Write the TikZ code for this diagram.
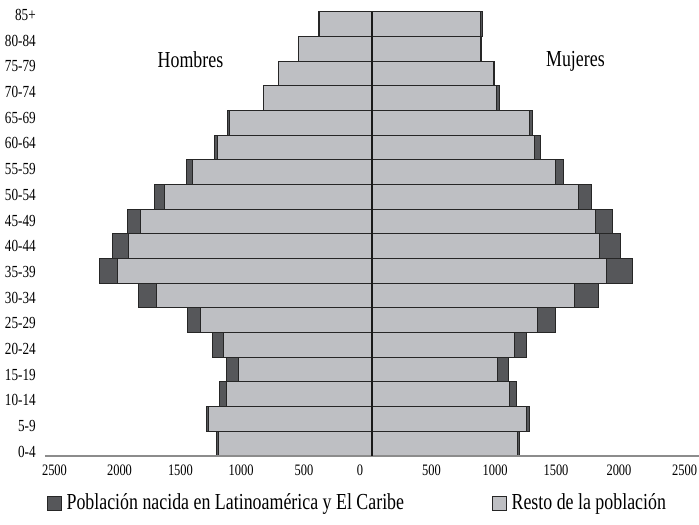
\documentclass[tikz,border=0pt]{standalone}
\usepackage{fontspec}
\setmainfont[FakeStretch=0.78]{Liberation Serif}
\usetikzlibrary{positioning}

\definecolor{latamgray}{RGB}{86,87,90}
\definecolor{restogray}{RGB}{190,191,195}

\tikzset{
  latam/.style={fill=latamgray,draw=black!85,line width=0.8bp},
  resto/.style={fill=restogray,draw=black!85,line width=0.8bp},
  agelabel/.style={anchor=east,inner sep=0pt,font=\fontsize{17}{17}\selectfont},
  ticklabel/.style={inner sep=0pt,font=\fontsize{16}{16}\selectfont},
  sexlabel/.style={inner sep=0pt,font=\fontsize{23}{23}\selectfont},
  keybox/.style={draw=black!85,line width=0.8bp,minimum size=14bp,inner sep=0pt},
  keytext/.style={anchor=west,inner sep=0pt,font=\fontsize{23}{23}\selectfont}
}

\begin{document}
\begin{tikzpicture}[x=0.127bp,y=24.67bp]

\useasboundingbox (-2929,-2.77) rectangle (2575,18.47);

% bars: dark one underneath, rest on top
\draw [latam] (-1228, 0) rectangle (1157, 1);
\draw [resto] (-1213, 0) rectangle (1144, 1);
\draw [latam] (-1307, 1) rectangle (1239, 2);
\draw [resto] (-1291, 1) rectangle (1218, 2);
\draw [latam] (-1202, 2) rectangle (1139, 3);
\draw [resto] (-1144, 2) rectangle (1079, 3);
\draw [latam] (-1144, 3) rectangle (1076, 4);
\draw [resto] (-1053, 3) rectangle ( 987, 4);
\draw [latam] (-1260, 4) rectangle (1218, 5);
\draw [resto] (-1173, 4) rectangle (1118, 5);
\draw [latam] (-1454, 5) rectangle (1443, 6);
\draw [resto] (-1354, 5) rectangle (1302, 6);
\draw [latam] (-1837, 6) rectangle (1785, 7);
\draw [resto] (-1697, 6) rectangle (1593, 7);
\draw [latam] (-2150, 7) rectangle (2047, 8);
\draw [resto] (-2008, 7) rectangle (1848, 8);
\draw [latam] (-2042, 8) rectangle (1953, 9);
\draw [resto] (-1916, 8) rectangle (1790, 9);
\draw [latam] (-1924, 9) rectangle (1895,10);
\draw [resto] (-1821, 9) rectangle (1759,10);
\draw [latam] (-1717,10) rectangle (1727,11);
\draw [resto] (-1638,10) rectangle (1628,11);
\draw [latam] (-1462,11) rectangle (1506,12);
\draw [resto] (-1413,11) rectangle (1443,12);
\draw [latam] (-1242,12) rectangle (1328,13);
\draw [resto] (-1218,12) rectangle (1278,13);
\draw [latam] (-1135,13) rectangle (1260,14);
\draw [resto] (-1120,13) rectangle (1236,14);
\draw [latam] ( -858,14) rectangle (1002,15);
\draw [resto] ( -853,14) rectangle ( 982,15);
\draw [latam] ( -740,15) rectangle ( 966,16);
\draw [resto] ( -735,15) rectangle ( 955,16);
\draw [latam] ( -580,16) rectangle ( 862,17);
\draw [resto] ( -577,16) rectangle ( 856,17);
\draw [latam] ( -420,17) rectangle ( 872,18);
\draw [resto] ( -415,17) rectangle ( 856,18);

% axis and centre line
\coordinate (axisL) at (-2575,0);
\coordinate (axisR) at ( 2575,0);
\coordinate (mid0) at (0,0);
\coordinate (midtop) at (0,18);
\draw [black!45,line width=2bp] (axisL) -- (axisR);
\draw [black!90,line width=1.1bp] (mid0) -- (midtop);

% age groups
\node [agelabel] (a0)  at (-2646, 0.16) {0-4};
\node [agelabel] (a1)  at (-2646, 1.20) {5-9};
\node [agelabel] (a2)  at (-2646, 2.25) {10-14};
\node [agelabel] (a3)  at (-2646, 3.29) {15-19};
\node [agelabel] (a4)  at (-2646, 4.33) {20-24};
\node [agelabel] (a5)  at (-2646, 5.37) {25-29};
\node [agelabel] (a6)  at (-2646, 6.41) {30-34};
\node [agelabel] (a7)  at (-2646, 7.45) {35-39};
\node [agelabel] (a8)  at (-2646, 8.49) {40-44};
\node [agelabel] (a9)  at (-2646, 9.53) {45-49};
\node [agelabel] (a10) at (-2646,10.57) {50-54};
\node [agelabel] (a11) at (-2646,11.62) {55-59};
\node [agelabel] (a12) at (-2646,12.66) {60-64};
\node [agelabel] (a13) at (-2646,13.70) {65-69};
\node [agelabel] (a14) at (-2646,14.74) {70-74};
\node [agelabel] (a15) at (-2646,15.78) {75-79};
\node [agelabel] (a16) at (-2646,16.82) {80-84};
\node [agelabel] (a17) at (-2646,17.86) {85+};

% scale
\node [ticklabel] (t0)  at (-2500,-0.58) {2500};
\node [ticklabel] (t1)  at (-1988,-0.58) {2000};
\node [ticklabel] (t2)  at (-1508,-0.58) {1500};
\node [ticklabel] (t3)  at (-1031,-0.58) {1000};
\node [ticklabel] (t4)  at ( -535,-0.58) {500};
\node [ticklabel] (t5)  at (  -94,-0.58) {0};
\node [ticklabel] (t6)  at (  469,-0.58) {500};
\node [ticklabel] (t7)  at (  969,-0.58) {1000};
\node [ticklabel] (t8)  at ( 1449,-0.58) {1500};
\node [ticklabel] (t9)  at ( 1945,-0.58) {2000};
\node [ticklabel] (t10) at ( 2462,-0.58) {2500};

\node [sexlabel] (men)   at (-1429,16.04) {Hombres};
\node [sexlabel] (women) at ( 1602,16.00) {Mujeres};

% legend
\node [keybox,fill=latamgray] (keyLatam) at (-2504,-1.95) {};
\node [keytext,right=5bp of keyLatam] (txtLatam) {Población nacida en Latinoamérica y El Caribe};
\node [keybox,fill=restogray] (keyResto) at (1000,-1.95) {};
\node [keytext,right=5bp of keyResto] (txtResto) {Resto de la población};

\end{tikzpicture}
\end{document}
